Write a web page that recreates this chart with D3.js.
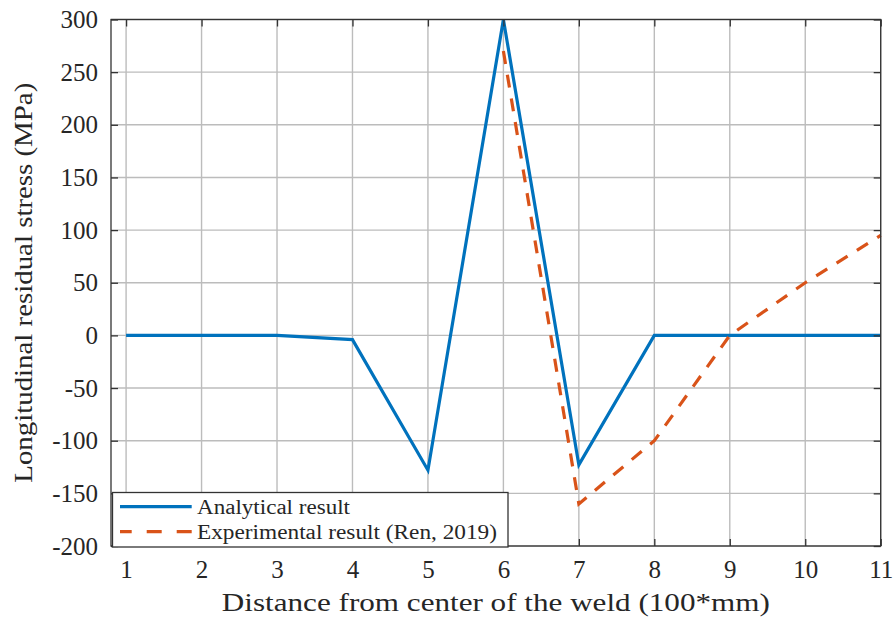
<!DOCTYPE html>
<html>
<head>
<meta charset="utf-8">
<script src="https://cdn.jsdelivr.net/npm/d3@7"></script>
<style>
  html, body { margin: 0; padding: 0; background: #fff; }
  svg { display: block; }
  svg text { font-family: "Liberation Serif", Tinos, "Times New Roman", Times, "Nimbus Roman", serif !important; fill: #262626; }
</style>
</head>
<body>
<svg id="chart" width="896" height="618"></svg>
<script>
// Distance from weld centre (in units of 100 mm)
const analyticalX = [1, 2, 3, 4, 5, 6, 7, 8, 9, 10, 11];
// Longitudinal residual stress from the analytical model (MPa)
const analyticalY = [0, 0, 0, -4, -128, 300, -123, 0, 0, 0, 0];
// Measured points (Ren, 2019)
const experimentalX = [6, 7, 8, 9, 10, 11];
const experimentalY = [270, -160, -100, 0, 50, 95];

const xTicks = [1, 2, 3, 4, 5, 6, 7, 8, 9, 10, 11];
const yTicks = [-200, -150, -100, -50, 0, 50, 100, 150, 200, 250, 300];
const seriesNames = ["Analytical result", "Experimental result (Ren, 2019)"];
const seriesColors = ["#0072BD", "#D95319"];

const svg = d3.select("#chart");
const plotLeft = 111, plotRight = 880.7, plotTop = 19.5, plotBottom = 546;

const x = d3.scaleLinear().domain([0.8, 11]).range([plotLeft, plotRight]);
const y = d3.scaleLinear().domain([-200, 300]).range([plotBottom, plotTop]);

const axisColor = "#333333";
const gridColor = "#bcbcbc";

// grid
const grid = svg.append("g");
grid.selectAll("line.vx").data(xTicks).join("line")
  .attr("x1", d => x(d)).attr("x2", d => x(d))
  .attr("y1", plotTop).attr("y2", plotBottom)
  .attr("stroke", gridColor).attr("stroke-width", 1.4);
grid.selectAll("line.hy").data(yTicks).join("line")
  .attr("x1", plotLeft).attr("x2", plotRight)
  .attr("y1", d => y(d)).attr("y2", d => y(d))
  .attr("stroke", gridColor).attr("stroke-width", 1.4);

// series
const line = d3.line().x(d => x(d[0])).y(d => y(d[1]));
svg.append("path")
  .datum(analyticalX.map((v, i) => [v, analyticalY[i]]))
  .attr("d", line).attr("fill", "none")
  .attr("stroke", seriesColors[0]).attr("stroke-width", 3.2)
  .attr("stroke-linejoin", "miter");
svg.append("path")
  .datum(experimentalX.map((v, i) => [v, experimentalY[i]]))
  .attr("d", line).attr("fill", "none")
  .attr("stroke", seriesColors[1]).attr("stroke-width", 3.2)
  .attr("stroke-dasharray", "13,11");

// axes: bottom/left with inward ticks, mirrored on top/right
const tickLen = 7;
const plainNum = d => String(d);
const xAxisB = d3.axisBottom(x).tickValues(xTicks).tickSizeInner(-tickLen).tickSizeOuter(0).tickPadding(14)
  .tickFormat(plainNum);
const yAxisL = d3.axisLeft(y).tickValues(yTicks).tickSizeInner(-tickLen).tickSizeOuter(0).tickPadding(13)
  .tickFormat(plainNum);

const gx = svg.append("g").attr("transform", `translate(0,${plotBottom})`).call(xAxisB);
const gy = svg.append("g").attr("transform", `translate(${plotLeft},0)`).call(yAxisL);
const gxt = svg.append("g").attr("transform", `translate(0,${plotTop})`)
  .call(d3.axisTop(x).tickValues(xTicks).tickSizeInner(-tickLen).tickSizeOuter(0).tickFormat(""));
const gyr = svg.append("g").attr("transform", `translate(${plotRight},0)`)
  .call(d3.axisRight(y).tickValues(yTicks).tickSizeInner(-tickLen).tickSizeOuter(0).tickFormat(""));

[gx, gy, gxt, gyr].forEach(g => {
  g.attr("font-family", null);
  g.select(".domain").remove();
  g.selectAll(".tick line").attr("stroke", axisColor).attr("stroke-width", 1.3);
  g.selectAll(".tick text").attr("font-size", 25).attr("fill", "#262626");
});
gx.selectAll(".tick text").attr("dy", "0.71em");

svg.append("rect")
  .attr("x", plotLeft).attr("y", plotTop)
  .attr("width", plotRight - plotLeft).attr("height", plotBottom - plotTop)
  .attr("fill", "none").attr("stroke", axisColor).attr("stroke-width", 1.3);

// axis titles
svg.append("text")
  .attr("x", (plotLeft + plotRight) / 2).attr("y", 611)
  .attr("text-anchor", "middle").attr("font-size", 25)
  .attr("textLength", 548).attr("lengthAdjust", "spacingAndGlyphs")
  .text("Distance from center of the weld (100*mm)");

svg.append("text")
  .attr("transform", `translate(32,${(plotTop + plotBottom) / 2}) rotate(-90)`)
  .attr("text-anchor", "middle").attr("font-size", 25)
  .attr("textLength", 400).attr("lengthAdjust", "spacingAndGlyphs")
  .text("Longitudinal residual stress (MPa)");

// legend
const lg = svg.append("g");
lg.append("rect")
  .attr("x", 112.5).attr("y", 492.5).attr("width", 395.5).attr("height", 54.5)
  .attr("fill", "#fff").attr("stroke", axisColor).attr("stroke-width", 1.3);
const legendRows = [
  { name: seriesNames[0], color: seriesColors[0], dash: null, offset: 0, y: 506.7, len: 153 },
  { name: seriesNames[1], color: seriesColors[1], dash: "15,15", offset: 3.3, y: 531.7, len: 300 }
];
legendRows.forEach(r => {
  lg.append("line")
    .attr("x1", 120).attr("x2", 191.7).attr("y1", r.y).attr("y2", r.y)
    .attr("stroke", r.color).attr("stroke-width", 3.2)
    .attr("stroke-dasharray", r.dash)
    .attr("stroke-dashoffset", r.offset);
  lg.append("text")
    .attr("x", 197).attr("y", r.y + 6.8)
    .attr("font-size", 20)
    .attr("textLength", r.len).attr("lengthAdjust", "spacingAndGlyphs")
    .text(r.name);
});
</script>
</body>
</html>
